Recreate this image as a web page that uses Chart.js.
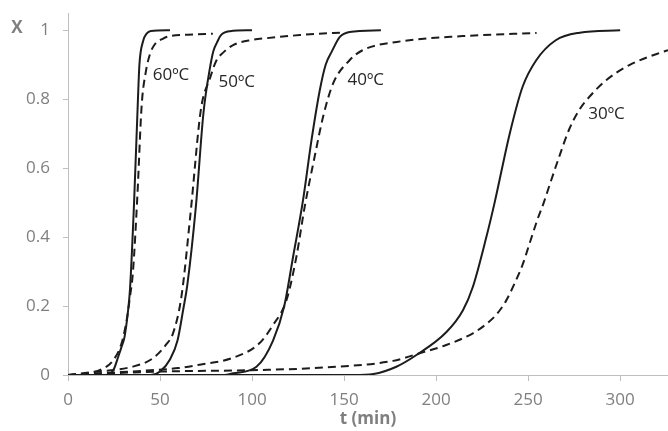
<!DOCTYPE html>
<html>
<head>
<meta charset="utf-8">
<script src="https://cdn.jsdelivr.net/npm/chart.js@4.4.0/dist/chart.umd.min.js"></script>
<style>
  body { margin: 0; background: #fff; }
</style>
</head>
<body>
<canvas id="chart" width="668" height="431"></canvas>
<script>
const xTicks = [0, 50, 100, 150, 200, 250, 300];
const yTicks = [0, 0.2, 0.4, 0.6, 0.8, 1];

// solid curves
const t60s = [0, 20, 23, 25, 27.3, 29, 30.7, 32.7, 33.7, 35.9, 38, 38.8, 40.9, 42.7, 45, 55.4];
const x60s = [0, 0, 0.004, 0.018, 0.053, 0.08, 0.11, 0.19, 0.25, 0.5, 0.8, 0.9, 0.97, 0.99, 0.998, 1];
const t50s = [0, 45, 50, 55.4, 59.5, 62.6, 64.8, 69.5, 73.6, 77.1, 79, 81, 83, 88, 100];
const x50s = [0, 0, 0.01, 0.045, 0.1, 0.19, 0.26, 0.49, 0.76, 0.89, 0.94, 0.965, 0.985, 0.997, 1];
const t40s = [0, 85, 89.7, 102.4, 111.4, 117.5, 122.3, 127.7, 132.3, 136.8, 140, 143.5, 147.6, 153, 170];
const x40s = [0, 0, 0.005, 0.024, 0.1, 0.2, 0.343, 0.507, 0.681, 0.826, 0.9, 0.94, 0.98, 0.995, 1];
const t30s = [0, 155, 166, 178.4, 189.3, 205.5, 214.6, 220, 227.3, 231.8, 240, 247, 254.4, 265, 278, 300];
const x30s = [0, 0, 0.003, 0.024, 0.058, 0.124, 0.188, 0.256, 0.4, 0.5, 0.7, 0.836, 0.913, 0.971, 0.993, 1];

// dashed curves
const t60d = [0, 10, 17.4, 24.6, 29.1, 31.9, 33.5, 35.3, 37.7, 40, 42.3, 44.5, 47, 51.7, 55.4, 65, 78.7];
const x60d = [0, 0.004, 0.0145, 0.043, 0.092, 0.16, 0.22, 0.3, 0.52, 0.78, 0.88, 0.93, 0.958, 0.976, 0.983, 0.987, 0.99];
const t50d = [0, 12, 35, 46, 53.6, 57, 61.7, 66.6, 72.2, 77.1, 80.7, 84.3, 89.7, 100, 108, 126, 144, 150];
const x50d = [0, 0.008, 0.024, 0.048, 0.09, 0.12, 0.23, 0.47, 0.77, 0.86, 0.913, 0.935, 0.957, 0.972, 0.977, 0.986, 0.992, 0.993];
const t40d = [0, 20, 40, 60, 71.6, 89.7, 104, 111.4, 118.7, 124.1, 128.6, 134, 138.6, 144, 153, 160, 178.6, 214.4, 254.6];
const x40d = [0, 0.006, 0.012, 0.02, 0.03, 0.05, 0.092, 0.145, 0.217, 0.343, 0.488, 0.633, 0.749, 0.845, 0.913, 0.942, 0.966, 0.983, 0.992];
const t30d = [0, 50, 104, 140, 176.6, 191, 205.5, 220, 227.3, 232.7, 238, 242.6, 247, 251, 255, 258.5, 261.6, 267, 272.5, 277.9, 283.3, 292.4, 305, 323, 326];
const x30d = [0, 0.01, 0.0145, 0.022, 0.041, 0.063, 0.087, 0.121, 0.148, 0.175, 0.215, 0.265, 0.32, 0.385, 0.45, 0.5, 0.55, 0.635, 0.715, 0.77, 0.807, 0.855, 0.899, 0.937, 0.942];

const curveLabels = ['60ºC', '50ºC', '40ºC', '30ºC'];
const labelT = [56, 91.7, 161.8, 292.6];
const labelX = [0.87, 0.849, 0.855, 0.757];

const toPoints = (ts, xs) => ts.map((t, i) => ({ x: t, y: xs[i] }));

const lineColor = '#1c1c1c';
function curve(ts, xs, dashed) {
    return {
        data: toPoints(ts, xs),
        showLine: true,
        borderColor: lineColor,
        borderWidth: 2,
        borderDash: dashed ? [8, 5] : [],
        pointRadius: 0,
        cubicInterpolationMode: 'monotone',
        fill: false
    };
}

const labelPlugin = {
    id: 'curveLabels',
    afterDatasetsDraw(chart) {
        const { ctx, scales } = chart;
        ctx.save();
        ctx.font = '17px "Open Sans"';
        ctx.fillStyle = '#262626';
        ctx.textAlign = 'center';
        ctx.textBaseline = 'middle';
        curveLabels.forEach((txt, i) => {
            ctx.fillText(txt, scales.x.getPixelForValue(labelT[i]), scales.y.getPixelForValue(labelX[i]));
        });
        // y axis title, top left
        ctx.font = 'bold 17px "Open Sans"';
        ctx.fillStyle = '#7f7f7f';
        ctx.fillText('X', 17, scales.y.getPixelForValue(1) - 2);
        ctx.restore();
    }
};

const tickFont = { family: '"Open Sans"', size: 17 };

new Chart(document.getElementById('chart'), {
    type: 'scatter',
    data: {
        datasets: [
            curve(t60s, x60s, false),
            curve(t60d, x60d, true),
            curve(t50s, x50s, false),
            curve(t50d, x50d, true),
            curve(t40s, x40s, false),
            curve(t40d, x40d, true),
            curve(t30s, x30s, false),
            curve(t30d, x30d, true)
        ]
    },
    options: {
        responsive: false,
        animation: false,
        layout: { padding: { top: 13, right: 0, left: 0, bottom: 0 } },
        plugins: {
            legend: { display: false },
            tooltip: { enabled: false }
        },
        scales: {
            x: {
                type: 'linear',
                min: 0,
                max: 326,
                afterBuildTicks: (s) => { s.ticks = xTicks.map(v => ({ value: v })); },
                afterFit: (s) => { s.height = 56; s.paddingRight = 0; },
                grid: { drawOnChartArea: false, drawTicks: true, tickLength: 6, color: '#bfbfbf' },
                border: { color: '#bfbfbf' },
                ticks: { color: '#7f7f7f', font: tickFont, padding: 9, maxRotation: 0 },
                title: {
                    display: true,
                    text: 't (min)',
                    color: '#7f7f7f',
                    font: { family: '"Open Sans"', size: 17, weight: 'bold' },
                    padding: { top: 0, bottom: 2 }
                }
            },
            y: {
                type: 'linear',
                min: 0,
                max: 1.05,
                afterBuildTicks: (s) => { s.ticks = yTicks.map(v => ({ value: v })); },
                afterFit: (s) => { s.width = 68; s.paddingTop = 0; s.paddingBottom = 0; },
                grid: { drawOnChartArea: false, drawTicks: true, tickLength: 5, color: '#bfbfbf' },
                border: { color: '#bfbfbf' },
                ticks: {
                    color: '#7f7f7f',
                    font: tickFont,
                    padding: 13,
                    callback: (v) => String(Math.round(v * 10) / 10)
                }
            }
        }
    },
    plugins: [labelPlugin]
});
</script>
</body>
</html>
